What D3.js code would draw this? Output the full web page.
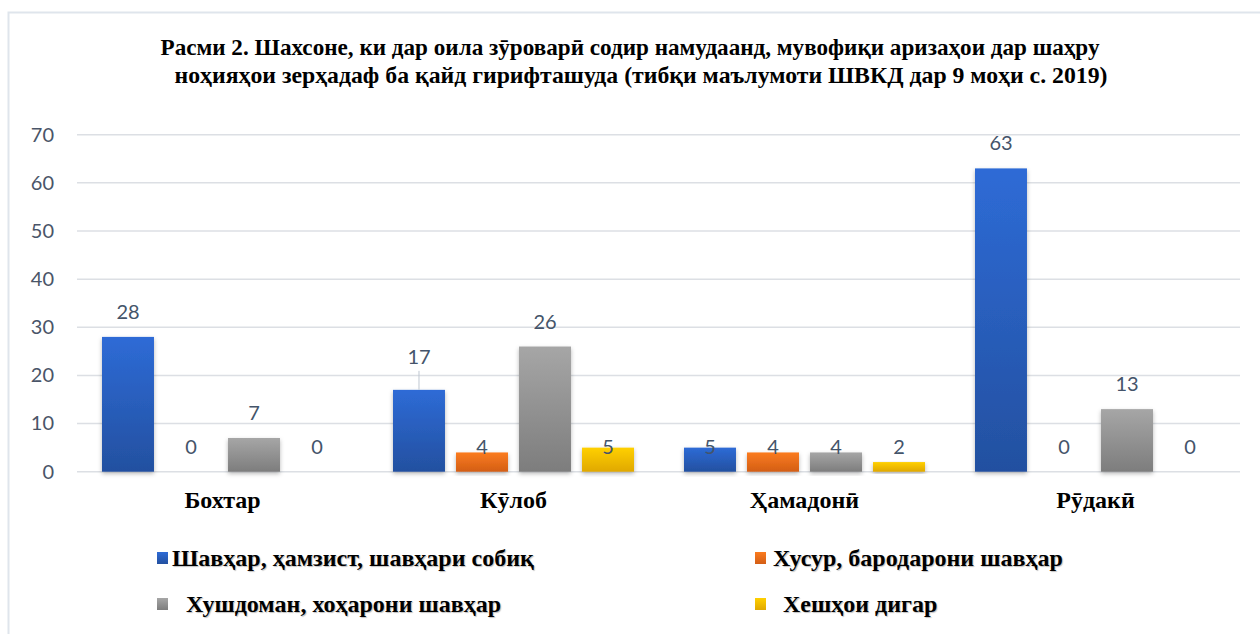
<!DOCTYPE html>
<html>
<head>
<meta charset="utf-8">
<script src="https://cdn.jsdelivr.net/npm/d3@7"></script>
<style>
  body { margin: 0; background: #fff; }
  svg { display: block; }
</style>
</head>
<body>
<div id="chart"></div>
<script>
// Données
const titleLines = [
  "Расми 2. Шахсоне, ки дар оила зӯроварӣ содир намудаанд, мувофиқи аризаҳои дар шаҳру",
  "ноҳияҳои зерҳадаф ба қайд гирифташуда (тибқи маълумоти ШВКД дар 9 моҳи с. 2019)"
];
const categories = ["Бохтар", "Кӯлоб", "Ҳамадонӣ", "Рӯдакӣ"];
const seriesNames = [
  "Шавҳар, ҳамзист, шавҳари собиқ",
  "Хусур, бародарони шавҳар",
  "Хушдоман, хоҳарони шавҳар",
  "Хешҳои дигар"
];
const spouse = [28, 17, 5, 63];
const fatherInLaw = [0, 4, 4, 0];
const motherInLaw = [7, 26, 4, 13];
const otherRelatives = [0, 5, 2, 0];
const yTicks = [0, 10, 20, 30, 40, 50, 60, 70];

const seriesValues = [spouse, fatherInLaw, motherInLaw, otherRelatives];
const gradients = [
  ["#2e6bd6", "#2350a0"],
  ["#fb7b1e", "#d35e16"],
  ["#a6a6a6", "#7d7d7d"],
  ["#ffd000", "#e0a800"]
];

const W = 1260, H = 634;
const serif = '"Liberation Serif", "Times New Roman", serif';
const sans = 'Lato, "Noto Sans", sans-serif';
const svg = d3.select('#chart').append('svg').attr('width', W).attr('height', H);

const defs = svg.append('defs');
gradients.forEach((g, i) => {
  const lg = defs.append('linearGradient').attr('id', 'grad' + i)
    .attr('x1', 0).attr('y1', 0).attr('x2', 0).attr('y2', 1);
  lg.append('stop').attr('offset', '0%').attr('stop-color', g[0]);
  lg.append('stop').attr('offset', '100%').attr('stop-color', g[1]);
});
const f = defs.append('filter').attr('id', 'shadow')
  .attr('x', '-20%').attr('y', '-10%').attr('width', '140%').attr('height', '130%');
f.append('feDropShadow').attr('dx', 0).attr('dy', 2).attr('stdDeviation', 2)
  .attr('flood-color', '#000').attr('flood-opacity', 0.28);

// Cadre
svg.append('path').attr('d', `M8.5,${H} V12.5 H${W}`)
  .attr('fill', 'none').attr('stroke', '#dfe5ec').attr('stroke-width', 2);

// Titre
const titleX = [630, 641], titleW = [939, 933];
titleLines.forEach((t, i) => {
  svg.append('text')
    .attr('x', titleX[i]).attr('y', 55 + i * 28)
    .attr('text-anchor', 'middle')
    .attr('font-family', serif)
    .attr('font-weight', 'bold').attr('font-size', 23)
    .attr('textLength', titleW[i]).attr('lengthAdjust', 'spacingAndGlyphs')
    .text(t);
});

// Échelles
const x0 = d3.scaleBand().domain(categories).range([77, 1241]);
const x1 = d3.scaleBand().domain(d3.range(seriesNames.length))
  .range([25, x0.bandwidth() - 25]).paddingInner(0.175);
const y = d3.scaleLinear().domain([0, 70]).range([471.7, 134.7]);

// Grille
svg.append('g').selectAll('line').data(yTicks).enter().append('line')
  .attr('x1', 77).attr('x2', 1240)
  .attr('y1', d => y(d)).attr('y2', d => y(d))
  .attr('stroke', '#dcdfe4').attr('stroke-width', 1.5);

// Axe Y
const yAxis = svg.append('g').attr('transform', 'translate(54,0)')
  .call(d3.axisLeft(y).tickValues(yTicks).tickSize(0).tickPadding(0));
yAxis.select('.domain').remove();
yAxis.selectAll('text')
  .attr('font-family', sans).attr('font-size', 20)
  .attr('fill', '#4a5568');

// Barres
const data = [];
categories.forEach((c, ci) => {
  seriesValues.forEach((vals, si) => data.push({ cat: c, s: si, v: vals[ci] }));
});

svg.append('g').selectAll('rect').data(data).enter().append('rect')
  .attr('x', d => x0(d.cat) + x1(d.s))
  .attr('y', d => y(d.v))
  .attr('width', x1.bandwidth())
  .attr('height', d => y(0) - y(d.v))
  .attr('fill', d => `url(#grad${d.s})`)
  .attr('filter', d => d.v > 0 ? 'url(#shadow)' : null);

// Étiquettes de valeurs
const movedLabel = { cat: "Кӯлоб", s: 0 };
const isMoved = d => d.cat === movedLabel.cat && d.s === movedLabel.s;
const labelY = d => {
  if (isMoved(d)) return y(d.v) - 33;
  if (d.v < 6) return y(0) - 25;
  return y(d.v) - 25;
};
const leader = data.find(isMoved);
const leaderX = x0(leader.cat) + x1(leader.s) + x1.bandwidth() / 2;
svg.append('line')
  .attr('x1', leaderX).attr('x2', leaderX)
  .attr('y1', labelY(leader) + 14).attr('y2', y(leader.v))
  .attr('stroke', '#bfc7d1').attr('stroke-width', 1);

svg.append('g').selectAll('text').data(data).enter().append('text')
  .attr('x', d => x0(d.cat) + x1(d.s) + x1.bandwidth() / 2)
  .attr('y', labelY)
  .attr('dy', '0.35em')
  .attr('text-anchor', 'middle')
  .attr('font-family', sans).attr('font-size', 20)
  .attr('fill', '#44546a')
  .text(d => d.v);

// Axe X
const xAxis = svg.append('g').attr('transform', `translate(0,${y(0)})`)
  .call(d3.axisBottom(x0).tickSize(0).tickPadding(19));
xAxis.select('.domain').remove();
xAxis.selectAll('text')
  .attr('font-family', serif)
  .attr('font-weight', 'bold').attr('font-size', 24).attr('fill', '#000');

// Légende
const legendPos = [
  { x: 157, y: 558, tx: 172 },
  { x: 755, y: 558, tx: 773 },
  { x: 157, y: 604, tx: 186 },
  { x: 755, y: 604, tx: 783 }
];
seriesNames.forEach((name, i) => {
  const p = legendPos[i];
  svg.append('rect').attr('x', p.x).attr('y', p.y - 6)
    .attr('width', 11).attr('height', 12).attr('fill', `url(#grad${i})`);
  svg.append('text').attr('x', p.tx).attr('y', p.y).attr('dy', '0.35em')
    .attr('font-family', serif)
    .attr('font-weight', 'bold').attr('font-size', 24).attr('fill', '#000')
    .style('text-shadow', '1px 1px 1px rgba(0,0,0,0.25)')
    .text(name);
});
</script>
</body>
</html>
